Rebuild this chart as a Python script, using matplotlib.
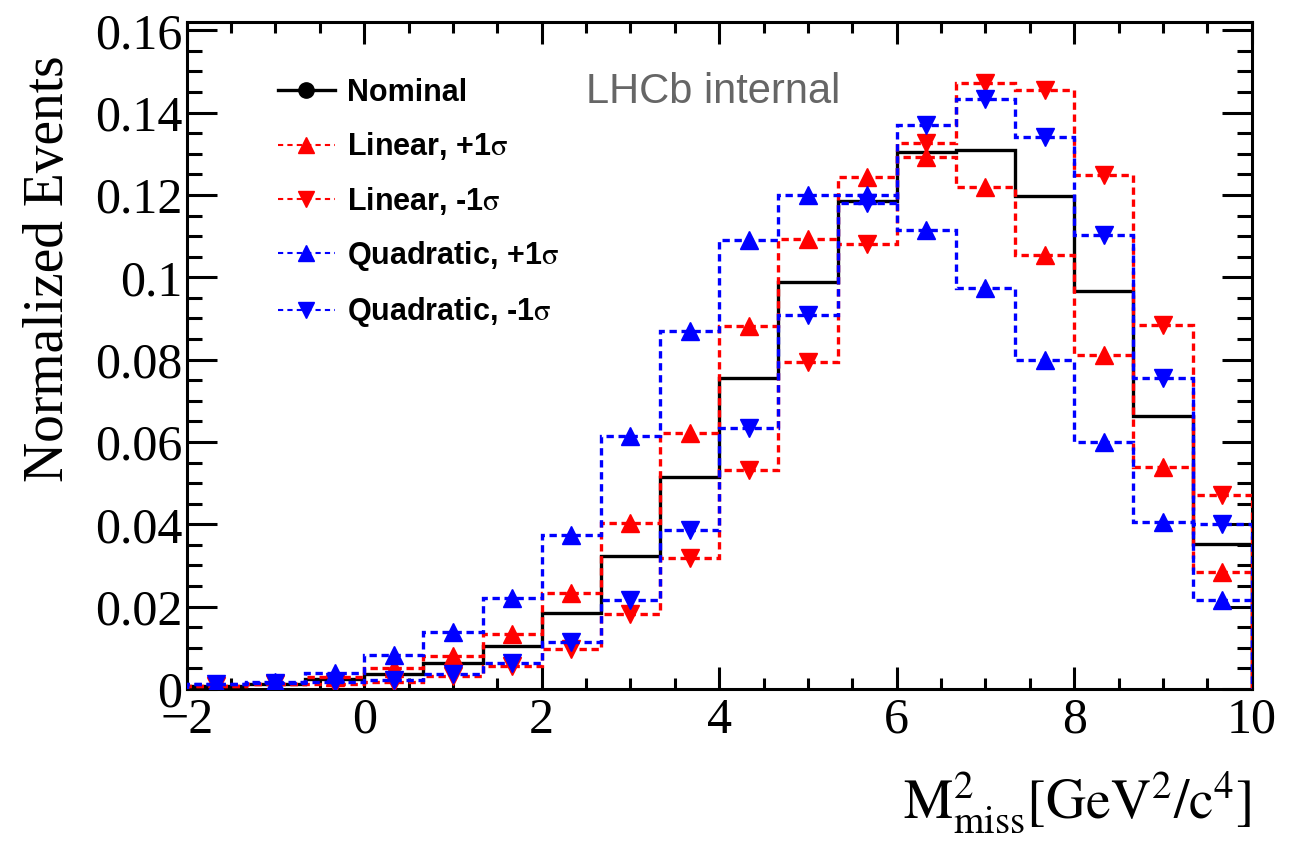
import matplotlib
matplotlib.use("Agg")
import matplotlib.pyplot as plt
import numpy as np
from matplotlib.lines import Line2D
from matplotlib.ticker import MultipleLocator, FuncFormatter

plt.rcParams['font.family'] = ['Liberation Serif', 'DejaVu Serif']
plt.rcParams['mathtext.fontset'] = 'stix'

# 18 bins from -2 to 10
edges = np.linspace(-2, 10, 19)
centers = 0.5 * (edges[:-1] + edges[1:])

nominal = [0.0008, 0.0012, 0.0024, 0.0037, 0.0063, 0.0104, 0.0184, 0.0323, 0.0514,
           0.0756, 0.0988, 0.1186, 0.1305, 0.1310, 0.1197, 0.0967, 0.0663, 0.0351]
lin_up = [0.0007, 0.0013, 0.0030, 0.0050, 0.0081, 0.0133, 0.0232, 0.0403, 0.0623,
          0.0881, 0.1093, 0.1243, 0.1291, 0.1220, 0.1054, 0.0811, 0.0539, 0.0285]
lin_dn = [0.0008, 0.0012, 0.0012, 0.0018, 0.0032, 0.0056, 0.0096, 0.0181, 0.0319,
          0.0532, 0.0794, 0.1082, 0.1326, 0.1472, 0.1456, 0.1248, 0.0883, 0.0471]
quad_up = [0.0012, 0.0018, 0.0038, 0.0083, 0.0139, 0.0222, 0.0375, 0.0615, 0.0869,
           0.1091, 0.1200, 0.1200, 0.1115, 0.0975, 0.0800, 0.0600, 0.0405, 0.0217]
quad_dn = [0.0012, 0.0015, 0.0017, 0.0022, 0.0036, 0.0062, 0.0115, 0.0215, 0.0385,
           0.0633, 0.0908, 0.1180, 0.1371, 0.1434, 0.1341, 0.1102, 0.0756, 0.0400]

labels = ['Nominal', r'Linear, +1$\mathrm{\sigma}$', r'Linear, -1$\mathrm{\sigma}$',
          r'Quadratic, +1$\mathrm{\sigma}$', r'Quadratic, -1$\mathrm{\sigma}$']

fig = plt.figure(figsize=(12.89, 8.48), dpi=100)
fig.set_facecolor('white')
ax = fig.add_axes([0.1448, 0.1875, 0.8263, 0.7865])

dash = (0, (2.2, 1.4))
lw = 2.4

# nominal
ax.stairs(nominal, edges, baseline=0, color='black', lw=lw, zorder=2)

series = [(lin_up, 'red', '^'), (lin_dn, 'red', 'v'),
          (quad_up, 'blue', '^'), (quad_dn, 'blue', 'v')]
z = 3
for vals, c, m in series:
    ax.stairs(vals, edges, baseline=0, color=c, lw=lw, linestyle=dash, zorder=z)
    ax.plot(centers, vals, linestyle='none', marker=m, color=c, ms=12.5, zorder=z)
    z += 1

ax.set_xlim(-2, 10)
ax.set_ylim(0, 0.162)

ax.xaxis.set_major_locator(MultipleLocator(2))
ax.xaxis.set_minor_locator(MultipleLocator(0.5))
ax.yaxis.set_major_locator(MultipleLocator(0.02))
ax.yaxis.set_minor_locator(MultipleLocator(0.005))
ax.yaxis.set_major_formatter(FuncFormatter(lambda v, p: '%g' % round(v, 4)))

ax.tick_params(which='both', direction='in', top=True, right=True, width=2.2,
               labelsize=36)
ax.tick_params(axis='y', which='major', length=21.6, pad=3)
ax.tick_params(axis='y', which='minor', length=10.8)
ax.tick_params(axis='x', which='major', length=15.8, pad=6)
ax.tick_params(axis='x', which='minor', length=8)
for s in ax.spines.values():
    s.set_linewidth(2.2)

ax.set_ylabel('Normalized Events', fontsize=40, loc='top')
ax.yaxis.set_label_coords(-0.105, 0.95)
ax.set_xlabel(r'$\mathrm{M^{2}_{miss}[GeV^{2}/c^{4}]}$', fontsize=40, loc='right')
ax.xaxis.set_label_coords(1.0, -0.12)

ax.text(0.3747, 0.895, 'LHCb internal', transform=ax.transAxes, fontsize=30,
        family='Liberation Sans', color='#666666', va='center', ha='left')

# legend
handles = [Line2D([], [], color='black', lw=lw, marker='o', ms=11)]
for vals, c, m in series:
    handles.append(Line2D([], [], color=c, lw=1.5, linestyle=(0, (2.5, 2)),
                          marker=m, ms=12))
leg = ax.legend(handles, labels, loc='upper left', bbox_to_anchor=(0.2157, 0.908),
                bbox_transform=fig.transFigure, frameon=False, borderpad=0,
                borderaxespad=0, handlelength=1.86, handletextpad=0.4,
                labelspacing=0.73, prop={'family': 'Liberation Sans',
                                         'weight': 'bold', 'size': 22})

fig.savefig('out.png', dpi=100)
